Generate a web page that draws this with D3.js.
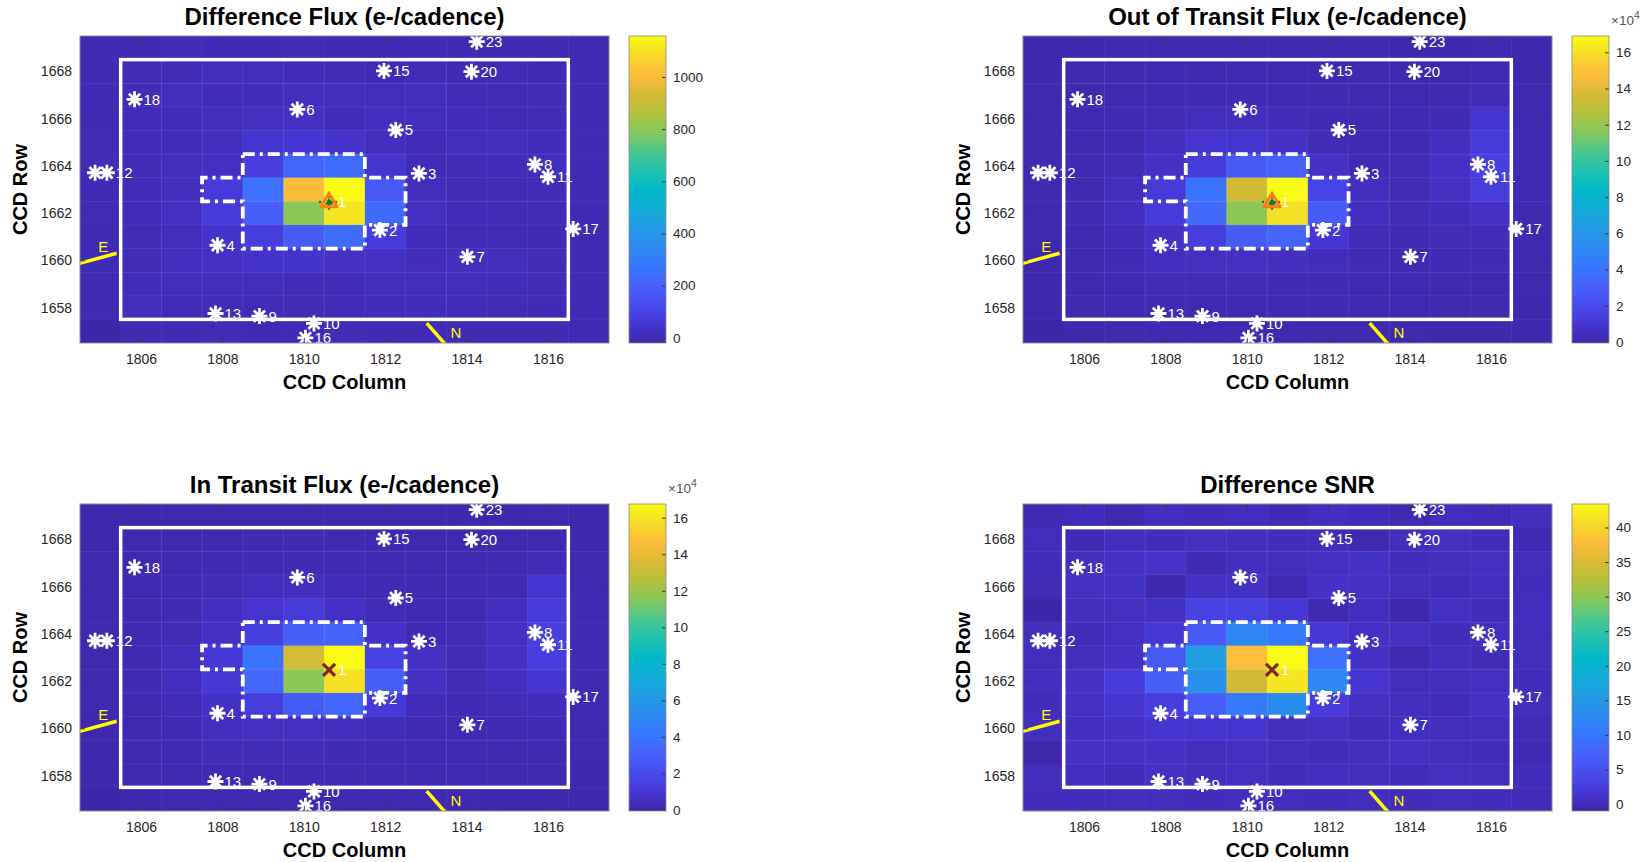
<!DOCTYPE html>
<html><head><meta charset="utf-8">
<script src="https://cdn.jsdelivr.net/npm/d3@7"></script>
<style>
body{margin:0;background:#fff;}
svg{display:block;}
text{font-family:"Liberation Sans",Arial,Helvetica,sans-serif;}
</style>
</head><body>
<svg id="chart" width="1650" height="862"></svg>
<script>
// ---------------- data ----------------
const columns = d3.range(1805, 1818);          // CCD columns 1805..1817
const rows = d3.range(1669, 1656, -1);         // CCD rows 1669..1657 (top to bottom)
const xTicks = [1806, 1808, 1810, 1812, 1814, 1816];
const yTicks = [1658, 1660, 1662, 1664, 1666, 1668];

const diffFlux = [
 [2, -3, 5, 3, 1, 4, 2, -2, 3, 1, 0, 2, -1],
 [1, 4, 6, 14, 14, 8, 6, 3, 5, 2, 4, 3, 0],
 [3, 6, 16, 10, 12, 18, 14, 16, 15, 8, 5, 4, 2],
 [2, 8, 12, 14, 22, 26, 12, 18, 16, 10, 6, 5, 3],
 [4, 10, 12, 18, 45, 52, 40, 20, 8, 15, 14, 12, 2],
 [5, 6, 14, 25, 80, 215, 240, 45, 8, 6, 8, 14, 3],
 [3, 8, 18, 70, 250, 1010, 1157, 170, 15, 6, 5, 10, 2],
 [4, 8, 25, 65, 190, 800, 1110, 230, 22, 8, 6, 6, 3],
 [2, 6, 14, 40, 75, 180, 240, 74, 12, 6, 4, 3, 1],
 [3, 5, 20, 28, 36, 40, 30, 26, 10, 16, 15, 4, 2],
 [2, 12, 16, 14, 14, 10, 8, 18, 16, 14, 12, 5, 1],
 [1, 14, 8, 6, 5, 4, 6, 12, 12, 5, 4, 3, 0],
 [-20, 2, 3, 5, 2, 3, 4, 3, 2, 1, 2, 0, -1]
];

const outFlux = [
 [800, 900, 1000, 1100, 1200, 1200, 1100, 1000, 1000, 900, 900, 1000, 800],
 [900, 1000, 1200, 1400, 1600, 1700, 1500, 1300, 1200, 1100, 1200, 1300, 900],
 [1000, 1200, 1500, 2000, 2600, 2800, 2200, 1800, 1500, 1300, 1600, 3000, 1100],
 [1100, 1400, 2000, 3000, 5000, 5200, 3500, 2400, 1800, 1600, 2600, 8500, 1400],
 [1200, 1500, 2600, 5000, 8500, 8800, 7000, 3200, 2200, 2400, 5000, 12000, 1800],
 [1300, 1700, 3200, 7000, 12500, 29000, 31000, 7000, 2800, 3000, 7000, 15000, 2000],
 [1200, 1800, 5000, 12000, 40000, 135000, 169000, 17000, 5000, 3200, 6000, 13000, 2000],
 [1100, 1600, 5200, 12000, 35000, 118000, 160000, 29000, 5000, 3000, 4000, 7000, 1800],
 [1000, 1400, 3600, 7000, 13000, 29000, 33000, 10000, 3500, 2500, 3000, 3500, 1500],
 [900, 1200, 2800, 5000, 5500, 5500, 5000, 4000, 2600, 2200, 2200, 2400, 1200],
 [800, 1100, 2000, 3000, 3200, 3000, 2600, 2400, 2000, 1800, 1600, 1500, 1000],
 [700, 1000, 1500, 2000, 2200, 2000, 1800, 1600, 1500, 1400, 1200, 1100, 900],
 [-600, 800, 1100, 1400, 1500, 1400, 1300, 1200, 1100, 1000, 900, 900, 700]
];

const inFlux = [
 [800, 900, 1000, 1100, 1200, 1200, 1100, 1000, 1000, 900, 900, 1000, 800],
 [900, 1000, 1200, 1400, 1600, 1700, 1500, 1300, 1200, 1100, 1200, 1300, 900],
 [1000, 1200, 1500, 2000, 2600, 2700, 2200, 1800, 1500, 1300, 1600, 3000, 1100],
 [1100, 1400, 2000, 3000, 5000, 5000, 3400, 2400, 1800, 1600, 2600, 8500, 1400],
 [1200, 1500, 2600, 5000, 8500, 11500, 6500, 3200, 2200, 2400, 5000, 12000, 1800],
 [1300, 1700, 3200, 6500, 14000, 30000, 32000, 7000, 2800, 3000, 6500, 14000, 2000],
 [1200, 1800, 5000, 10500, 40000, 134000, 167500, 15500, 6000, 3200, 6500, 13000, 2000],
 [1100, 1600, 5200, 10500, 33000, 117000, 158500, 29000, 6000, 3000, 5000, 8500, 1800],
 [1000, 1400, 3600, 6500, 13000, 28000, 33000, 11000, 3500, 2500, 3000, 4000, 1500],
 [900, 1200, 2800, 5000, 5400, 5400, 5000, 4000, 2600, 2200, 2200, 2400, 1200],
 [800, 1100, 2000, 3000, 3200, 3000, 2600, 2400, 2000, 1800, 1600, 1500, 1000],
 [700, 1000, 1500, 2000, 2200, 2000, 1800, 1600, 1500, 1400, 1200, 1100, 900],
 [-600, 800, 1100, 1400, 1500, 1400, 1300, 1200, 1100, 1000, 900, 900, 700]
];

const diffSNR = [
 [-0.3, 0.2, -0.5, 0.4, 0.1, 0.3, -0.2, 0.5, 0.2, -0.4, 0.3, 0.0, 0.4],
 [0.3, -0.2, 0.5, 0.2, 0.6, 0.4, 0.2, 0.1, -0.5, 0.3, 0.6, 0.2, -0.1],
 [0.2, 0.4, 1.0, 1.1, -0.2, 0.5, 0.3, 0.6, 1.0, 0.2, 0.4, 0.6, 0.3],
 [0.0, 0.8, 1.0, -0.6, 0.8, 0.9, -0.3, 1.0, 0.8, 0.4, 0.2, 0.5, 0.2],
 [-1.0, 0.3, 0.6, 0.8, 3.4, 3.4, 1.9, -0.4, 0.5, -0.7, 0.8, 0.2, 0.5],
 [0.4, 0.2, 0.7, 1.9, 6.5, 12.3, 10.5, 1.9, 0.8, 0.8, 0.2, 0.6, 0.3],
 [0.3, 0.3, 1.0, 6.5, 16.0, 38.0, 43.4, 9.2, 1.0, -0.4, 0.5, 0.0, 0.4],
 [0.5, 1.0, 2.5, 7.0, 14.0, 34.5, 41.6, 12.3, 1.4, 0.3, 0.4, 0.6, 0.2],
 [0.2, 0.8, 1.4, 2.6, 7.0, 10.5, 13.2, 2.5, 0.8, 0.5, 0.1, 0.9, 0.4],
 [0.4, 0.5, 1.0, 1.4, 1.4, 1.4, 0.3, 0.6, 0.2, 0.5, 0.3, 0.4, 0.0],
 [-0.8, 1.0, 1.0, 1.0, 0.3, 0.6, 0.5, 0.2, 0.4, 0.8, 0.3, 0.2, -0.3],
 [0.3, 0.5, 0.2, 0.8, 0.4, 0.6, 0.2, 0.5, 0.3, 0.2, 0.6, 0.3, 0.2],
 [0.1, 0.2, 0.4, 0.3, 0.1, 0.5, 0.3, 0.2, 0.4, 0.1, 0.3, 0.2, 0.0]
];

const diffTicks = [0, 200, 400, 600, 800, 1000];
const fluxTicks = [0, 2, 4, 6, 8, 10, 12, 14, 16];   // x 10^4
const snrTicks = [0, 5, 10, 15, 20, 25, 30, 35, 40];

const panelTitles = ["Difference Flux (e-/cadence)", "Out of Transit Flux (e-/cadence)",
                     "In Transit Flux (e-/cadence)", "Difference SNR"];

// star ids ("" = label hidden behind the neighbouring star in the reference)
const starIds  = ["23","15","20","18","6","5","","12","3","8","11","17","2","4","7","13","9","10","16"];
const starCols = [1814.25,1811.97,1814.12,1805.84,1809.84,1812.26,1804.87,1805.16,1812.83,1815.68,1816.0,1816.62,1811.87,1807.88,1814.02,1807.83,1808.91,1810.25,1810.04];
const starRows = [1669.26,1668.02,1667.99,1666.82,1666.39,1665.52,1663.71,1663.71,1663.68,1664.06,1663.54,1661.33,1661.28,1660.64,1660.15,1657.75,1657.64,1657.33,1656.72];
const targetStar = {id: "1", col: 1810.62, row: 1662.48};

const maskBox = [[1805.5, 1657.5], [1816.5, 1668.5]];
const optimalAperture = [[1808.5,1664.5],[1811.5,1664.5],[1811.5,1663.5],[1812.5,1663.5],[1812.5,1661.5],
  [1811.5,1661.5],[1811.5,1660.5],[1808.5,1660.5],[1808.5,1662.5],[1807.5,1662.5],[1807.5,1663.5],[1808.5,1663.5]];
const compassE = [[1804.3, 1659.78], [1805.4, 1660.3]];
const compassELabel = [1805.07, 1660.35];
const compassN = [[1813.02, 1657.34], [1813.5, 1656.4]];
const compassNLabel = [1813.74, 1656.7];

// parula colormap stops (t, r, g, b)
const parula = [[0,62,38,168],[0.063,70,55,212],[0.125,72,75,238],[0.188,71,97,250],[0.25,54,119,254],
  [0.313,44,138,240],[0.375,35,155,228],[0.438,18,172,215],[0.5,0,185,200],[0.563,36,194,175],
  [0.625,74,199,144],[0.688,135,200,90],[0.75,180,193,60],[0.813,217,186,52],[0.875,253,189,60],
  [0.938,245,219,40],[1,249,251,20]];

// ---------------- layout ----------------
const W = 529, H = 307, CBW = 37;
const panels = [
  {data: diffFlux, ticks: diffTicks, tscale: 1,   exp: null, left: 80,   top: 36,  marker: "tri"},
  {data: outFlux,  ticks: fluxTicks, tscale: 1e4, exp: "4",  left: 1023, top: 36,  marker: "tri"},
  {data: inFlux,   ticks: fluxTicks, tscale: 1e4, exp: "4",  left: 80,   top: 504, marker: "x"},
  {data: diffSNR,  ticks: snrTicks,  tscale: 1,   exp: null, left: 1023, top: 504, marker: "x"}
];

const svg = d3.select("#chart");
const defs = svg.append("defs");
const grad = defs.append("linearGradient").attr("id","parulaGrad")
  .attr("x1",0).attr("y1",1).attr("x2",0).attr("y2",0);
grad.selectAll("stop").data(parula).join("stop")
  .attr("offset", d => d[0]).attr("stop-color", d => d3.rgb(d[1],d[2],d[3]));

const TXT = "#262626";
const starPath = (() => { const a = 8, b = a/Math.SQRT2;
  return `M${-a},0H${a}M0,${-a}V${a}M${-b},${-b}L${b},${b}M${-b},${b}L${b},${-b}`; })();

panels.forEach((p, pi) => {
  const x = d3.scaleLinear().domain([1804.5, 1817.5]).range([0, W]);
  const y = d3.scaleLinear().domain([1656.5, 1669.5]).range([H, 0]);
  const [mn, mx] = d3.extent(p.data.flat());
  const color = d3.scaleLinear()
    .domain(parula.map(s => mn + s[0] * (mx - mn)))
    .range(parula.map(s => d3.rgb(s[1], s[2], s[3])))
    .clamp(true);

  const g = svg.append("g").attr("transform", `translate(${p.left},${p.top})`);
  const clipId = "clip" + pi;
  defs.append("clipPath").attr("id", clipId).append("rect").attr("width", W).attr("height", H);
  const plot = g.append("g").attr("clip-path", `url(#${clipId})`);

  // image cells
  const cells = [];
  p.data.forEach((r, i) => r.forEach((v, j) => cells.push({col: columns[j], row: rows[i], v})));
  plot.append("g").selectAll("rect").data(cells).join("rect")
    .attr("x", d => x(d.col - 0.5)).attr("y", d => y(d.row + 0.5))
    .attr("width", d => x(d.col + 0.5) - x(d.col - 0.5) + 0.5)
    .attr("height", d => y(d.row - 0.5) - y(d.row + 0.5) + 0.5)
    .attr("fill", d => color(d.v));

  // faint pixel grid inside mask box
  const gx = d3.range(maskBox[0][0], maskBox[1][0] + 0.01, 1);
  const gy = d3.range(maskBox[0][1], maskBox[1][1] + 0.01, 1);
  const grid = plot.append("g").attr("stroke", "#fff").attr("stroke-opacity", 0.08).attr("stroke-width", 1);
  grid.selectAll(".gv").data(gx).join("line").attr("class","gv")
    .attr("x1", d => x(d)).attr("x2", d => x(d)).attr("y1", y(maskBox[1][1])).attr("y2", y(maskBox[0][1]));
  grid.selectAll(".gh").data(gy).join("line").attr("class","gh")
    .attr("y1", d => y(d)).attr("y2", d => y(d)).attr("x1", x(maskBox[0][0])).attr("x2", x(maskBox[1][0]));

  // mask rectangle
  plot.append("rect")
    .attr("x", x(maskBox[0][0])).attr("y", y(maskBox[1][1]))
    .attr("width", x(maskBox[1][0]) - x(maskBox[0][0]))
    .attr("height", y(maskBox[0][1]) - y(maskBox[1][1]))
    .attr("fill", "none").attr("stroke", "#fff").attr("stroke-width", 3.5);

  // optimal aperture (dash-dot)
  plot.append("path")
    .attr("d", d3.line().x(d => x(d[0])).y(d => y(d[1]))(optimalAperture) + "Z")
    .attr("fill", "none").attr("stroke", "#fff").attr("stroke-width", 3.8)
    .attr("stroke-dasharray", "12,5,3,5");

  // compass
  const lineGen = d3.line().x(d => x(d[0])).y(d => y(d[1]));
  plot.append("path").attr("d", lineGen(compassE)).attr("stroke", "#ffff00").attr("stroke-width", 3.5).attr("fill","none");
  plot.append("path").attr("d", lineGen(compassN)).attr("stroke", "#ffff00").attr("stroke-width", 3.5).attr("fill","none");
  g.append("text").attr("x", x(compassELabel[0])).attr("y", y(compassELabel[1]))
    .attr("text-anchor","middle").attr("fill","#ffff00").attr("font-size",15).text("E");
  g.append("text").attr("x", x(compassNLabel[0])).attr("y", y(compassNLabel[1]))
    .attr("text-anchor","middle").attr("fill","#ffff00").attr("font-size",15).text("N");

  // stars: labels then markers
  const stars = starIds.map((id, k) => ({id, col: starCols[k], row: starRows[k]}));
  g.append("g").selectAll("text").data(stars.filter(d => d.id)).join("text")
    .attr("x", d => x(d.col) + 9).attr("y", d => y(d.row) + 5.5)
    .attr("fill", "#fff").attr("font-size", 15).text(d => d.id);
  plot.append("g").selectAll("path").data(stars).join("path")
    .attr("transform", d => `translate(${x(d.col)},${y(d.row)})`)
    .attr("d", starPath).attr("stroke", "#fff").attr("stroke-width", 2.8).attr("fill", "none");

  // target
  const tx = x(targetStar.col), ty = y(targetStar.row);
  g.append("text").attr("x", tx + 9).attr("y", ty + 5.5).attr("fill", "#fff").attr("font-size", 15).text(targetStar.id);
  if (p.marker === "tri") {
    const tg = g.append("g").attr("transform", `translate(${tx},${ty})`);
    tg.append("path").attr("d", "M-10,0H10M0,-10V10").attr("stroke", "#1f6f3a").attr("stroke-width", 2.2)
      .attr("stroke-dasharray", "2,2");
    tg.append("path").attr("d", "M0,-8.5L8,5L-8,5Z").attr("fill", "none")
      .attr("stroke", "#f77f16").attr("stroke-width", 3).attr("stroke-linejoin","round");
    tg.append("path").attr("d", "M0,-4L4.2,3L-4.2,3Z").attr("fill", "#1f6f3a");
  } else {
    g.append("path").attr("transform", `translate(${tx},${ty})`)
      .attr("d", "M-6,-6L6,6M-6,6L6,-6")
      .attr("stroke", "#7e2626").attr("stroke-width", 3.2).attr("fill", "none");
  }

  // axes
  const styleAxis = sel => {
    sel.select(".domain").remove();
    sel.selectAll(".tick line").attr("stroke", "#3a3a3a").attr("stroke-width", 1);
    sel.selectAll(".tick text").attr("fill", TXT).attr("font-size", 14)
      .attr("font-family", '"Liberation Sans",Arial,sans-serif');
  };
  g.append("g").attr("transform", `translate(0,${H})`)
    .call(d3.axisBottom(x).tickValues(xTicks).tickFormat(d3.format("d")).tickSize(-5).tickPadding(11)).call(styleAxis);
  g.append("g").call(d3.axisTop(x).tickValues(xTicks).tickFormat("").tickSize(-5)).call(styleAxis);
  g.append("g").call(d3.axisLeft(y).tickValues(yTicks).tickFormat(d3.format("d")).tickSize(-5).tickPadding(8)).call(styleAxis);
  g.append("g").attr("transform", `translate(${W},0)`)
    .call(d3.axisRight(y).tickValues(yTicks).tickFormat("").tickSize(-5)).call(styleAxis);
  g.append("rect").attr("width", W).attr("height", H).attr("fill", "none")
    .attr("stroke", "#8a8a9a").attr("stroke-width", 1);

  // labels
  g.append("text").attr("x", W/2).attr("y", -11).attr("text-anchor", "middle")
    .attr("font-weight", "bold").attr("font-size", 24).attr("fill", "#000").text(panelTitles[pi]);
  g.append("text").attr("x", W/2).attr("y", H + 46).attr("text-anchor", "middle")
    .attr("font-weight", "bold").attr("font-size", 20).attr("fill", "#000").text("CCD Column");
  g.append("text").attr("transform", `translate(-53,${H/2}) rotate(-90)`).attr("text-anchor", "middle")
    .attr("font-weight", "bold").attr("font-size", 20).attr("fill", "#000").text("CCD Row");

  // colorbar
  const cb = g.append("g").attr("transform", `translate(${W + 20},0)`);
  cb.append("rect").attr("width", CBW).attr("height", H).attr("fill", "url(#parulaGrad)");
  const cscale = d3.scaleLinear().domain([mn, mx]).range([H, 0]);
  cb.append("g").attr("transform", `translate(${CBW},0)`)
    .call(d3.axisRight(cscale).tickValues(p.ticks.map(t => t * p.tscale))
      .tickFormat(v => d3.format("d")(Math.round(v / p.tscale))).tickSize(-4).tickPadding(7))
    .call(sel => {
      sel.select(".domain").remove();
      sel.selectAll(".tick line").attr("stroke", "#3a3a3a");
      sel.selectAll(".tick text").attr("fill", TXT).attr("font-size", 13.5)
        .attr("font-family", '"Liberation Sans",Arial,sans-serif');
    });
  cb.append("rect").attr("width", CBW).attr("height", H).attr("fill", "none")
    .attr("stroke", "#8a8a8a").attr("stroke-width", 0.8);
  if (p.exp) {
    const t = cb.append("text").attr("x", CBW + 2).attr("y", -11).attr("fill", "#555").attr("font-size", 13.5);
    t.append("tspan").text("\u00d710");
    t.append("tspan").attr("dy", -6).attr("font-size", 10.5).text(p.exp);
  }
});
</script>
</body></html>
